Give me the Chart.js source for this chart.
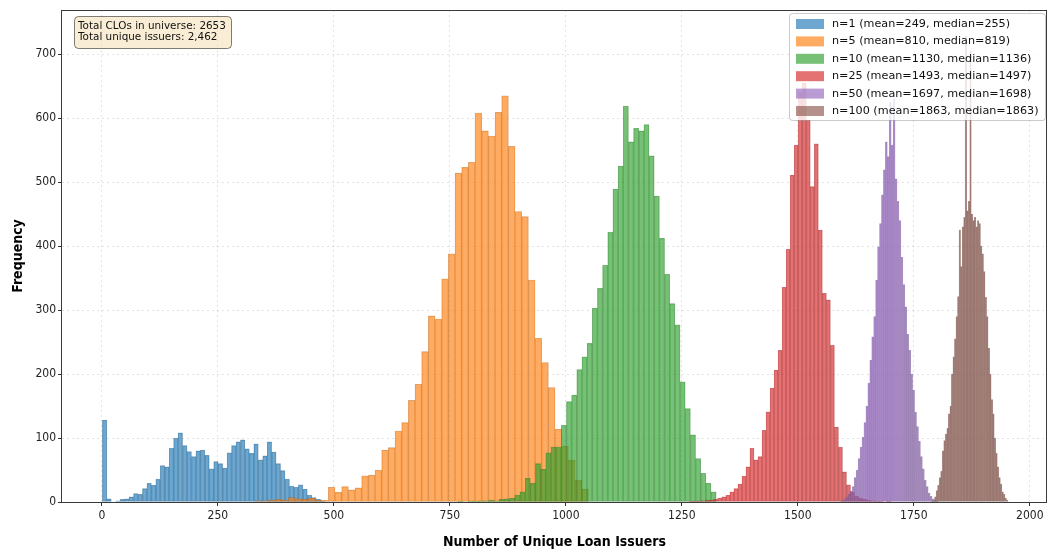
<!DOCTYPE html>
<html>
<head>
<meta charset="utf-8">
<script src="https://cdn.jsdelivr.net/npm/chart.js@4.4.1/dist/chart.umd.min.js"></script>
<style>
html,body{margin:0;padding:0;background:#ffffff;}
#wrap{width:1049px;height:551px;position:relative;}
</style>
</head>
<body>
<div id="wrap"><canvas id="c" width="1049" height="551"></canvas></div>
<script>
// ---------------- data ----------------
const seriesLabels = [
  'n=1 (mean=249, median=255)',
  'n=5 (mean=810, median=819)',
  'n=10 (mean=1130, median=1136)',
  'n=25 (mean=1493, median=1497)',
  'n=50 (mean=1697, median=1698)',
  'n=100 (mean=1863, median=1863)'
];
const seriesColors = ['#1f77b4', '#ff7f0e', '#2ca02c', '#d62728', '#9467bd', '#8c564b'];
// histogram bin edges: first edge and bin width (data units) per series
const binStart = [1, 330, 767.5, 1266.7, 1592, 1788];
const binWidth = [9.6, 14.37, 11.13, 8.67, 4.2, 3.3];

const countsN1 = [128, 5, 0, 2, 4, 5, 8, 13, 12, 21, 29, 26, 36, 57, 55, 84, 100, 108, 88, 79,
  71, 80, 81, 73, 52, 63, 60, 53, 77, 88, 94, 97, 83, 76, 91, 66, 72, 94, 78, 60,
  49, 36, 25, 23, 27, 20, 11, 7, 4, 2];
const countsN5 = [2, 2, 3, 4, 3, 7, 5, 4, 6, 3, 3, 23, 15, 24, 19, 22, 41, 42, 50, 81,
  85, 111, 124, 159, 184, 235, 291, 286, 349, 388, 514, 523, 531, 608, 580, 572, 609, 635, 556, 454,
  446, 347, 256, 218, 179, 114, 87, 65, 34, 20];
const countsN10 = [1, 0, 1, 1, 2, 2, 3, 2, 4, 5, 6, 11, 16, 37, 29, 60, 51, 77, 86, 86,
  120, 157, 167, 207, 227, 248, 303, 334, 370, 422, 489, 525, 619, 563, 584, 580, 590, 541, 478, 412,
  356, 310, 277, 188, 146, 105, 68, 45, 29, 16];
const countsN25 = [1, 1, 2, 2, 3, 3, 4, 6, 8, 11, 16, 21, 28, 40, 55, 84, 66, 71, 112, 141,
  178, 206, 237, 336, 395, 511, 558, 640, 655, 597, 493, 560, 425, 326, 316, 245, 117, 86, 47, 27,
  15, 9, 6, 4, 3, 2, 1, 1, 0, 1];
const countsN50 = [2, 3, 5, 8, 12, 17, 24, 38, 50, 68, 86, 101, 124, 150, 186, 222, 258, 290, 347, 399,
  435, 480, 519, 563, 540, 625, 558, 630, 505, 470, 440, 383, 340, 305, 262, 237, 200, 175, 140, 118,
  95, 71, 52, 34, 24, 14, 9, 5, 3, 1];
const countsN100 = [1, 2, 8, 18, 26, 38, 48, 80, 96, 106, 115, 138, 150, 200, 227, 255, 290, 321, 425, 368,
  430, 445, 728, 455, 470, 705, 450, 440, 445, 430, 440, 435, 400, 388, 360, 320, 290, 240, 200, 160,
  138, 100, 76, 55, 38, 28, 16, 12, 6, 3];

const xTicks = [0, 250, 500, 750, 1000, 1250, 1500, 1750, 2000];
const yTicks = [0, 100, 200, 300, 400, 500, 600, 700];
const xMin = -86, xMax = 2037, yMin = 0, yMax = 769;

const infoLines = ['Total CLOs in universe: 2653', 'Total unique issuers: 2,462'];
const xTitle = 'Number of Unique Loan Issuers';
const yTitle = 'Frequency';

// ---------------- helpers ----------------
const allCounts = [countsN1, countsN5, countsN10, countsN25, countsN50, countsN100];
function rgba(hex, a) {
  const n = parseInt(hex.slice(1), 16);
  return `rgba(${(n >> 16) & 255},${(n >> 8) & 255},${n & 255},${a})`;
}
function dark(hex, f, a) {
  const n = parseInt(hex.slice(1), 16);
  return `rgba(${Math.round(((n >> 16) & 255) * f)},${Math.round(((n >> 8) & 255) * f)},${Math.round((n & 255) * f)},${a})`;
}
const FONT = "'DejaVu Sans', sans-serif";
const COND = "'Liberation Sans Narrow', 'DejaVu Sans Condensed', 'DejaVu Sans', sans-serif";
const ALPHA = 0.65;

const datasets = allCounts.map((counts, i) => ({
  type: 'bar',
  label: seriesLabels[i],
  data: counts.map((c, j) => ({ x: binStart[i] + binWidth[i] * (j + 0.5), y: c })),
  xAxisID: i === 0 ? 'x' : 'x' + i,
  yAxisID: 'y',
  backgroundColor: rgba(seriesColors[i], ALPHA),
  borderColor: dark(seriesColors[i], 0.65, 0.45),
  borderWidth: 0.5,
  borderSkipped: false,
  barPercentage: 1,
  categoryPercentage: 1,
  grouped: false,
  order: 6 - i
}));

const plainTick = v => String(v);
const scales = {
  x: {
    type: 'linear', min: xMin, max: xMax, offset: false,
    afterBuildTicks: s => { s.ticks = xTicks.map(v => ({ value: v })); },
    afterFit: s => { s.height = 49; },
    grid: { color: 'rgba(0,0,0,0.11)', lineWidth: 1, drawTicks: true, tickLength: 4, tickColor: '#333', offset: false },
    border: { display: false, dash: [2, 3] },
    ticks: { font: { family: COND, size: 12 }, color: '#222', padding: 3, maxRotation: 0, callback: plainTick },
    title: { display: true, text: xTitle, font: { family: COND, size: 14, weight: 'bold' }, color: '#000', padding: { top: 4, bottom: 0 } }
  },
  y: {
    type: 'linear', min: yMin, max: yMax,
    afterBuildTicks: s => { s.ticks = yTicks.map(v => ({ value: v })); },
    afterFit: s => { s.width = 62; },
    grid: { color: 'rgba(0,0,0,0.11)', lineWidth: 1, drawTicks: true, tickLength: 4, tickColor: '#333' },
    border: { display: false, dash: [2, 3] },
    ticks: { font: { family: COND, size: 12 }, color: '#222', padding: 2, callback: plainTick },
    title: { display: true, text: yTitle, font: { family: COND, size: 14, weight: 'bold' }, color: '#000', padding: { top: 10, bottom: 0 } }
  }
};
for (let i = 1; i < 6; i++) {
  scales['x' + i] = { type: 'linear', display: false, min: xMin, max: xMax, offset: false,
    afterBuildTicks: s => { s.ticks = xTicks.map(v => ({ value: v })); } };
}

function roundRect(c, x, y, w, h, r) {
  c.beginPath();
  c.moveTo(x + r, y);
  c.lineTo(x + w - r, y); c.quadraticCurveTo(x + w, y, x + w, y + r);
  c.lineTo(x + w, y + h - r); c.quadraticCurveTo(x + w, y + h, x + w - r, y + h);
  c.lineTo(x + r, y + h); c.quadraticCurveTo(x, y + h, x, y + h - r);
  c.lineTo(x, y + r); c.quadraticCurveTo(x, y, x + r, y);
  c.closePath();
}

const framePlugin = {
  id: 'frame',
  afterDatasetsDraw(chart) {
    const { left, right, top, bottom } = chart.chartArea;
    const c = chart.ctx;
    c.save();
    c.strokeStyle = '#3a3a3a';
    c.lineWidth = 1;
    c.strokeRect(Math.round(left) - 0.5, Math.round(top) + 0.5, Math.round(right - left), Math.round(bottom - top));
    c.restore();
  }
};

const boxesPlugin = {
  id: 'boxes',
  afterDraw(chart) {
    const c = chart.ctx;
    const { left, right, top } = chart.chartArea;
    c.save();
    // info box (top-left)
    c.font = `10.4px ${FONT}`;
    const ix = left + 12, iy = top + 6, iw = 157, ih = 32;
    roundRect(c, ix + 0.5, iy + 0.5, iw, ih, 4);
    c.fillStyle = 'rgba(245,222,179,0.55)';
    c.fill();
    c.strokeStyle = 'rgba(0,0,0,0.5)';
    c.lineWidth = 1;
    c.stroke();
    c.fillStyle = '#111';
    c.textBaseline = 'middle';
    c.textAlign = 'left';
    infoLines.forEach((t, k) => c.fillText(t, ix + 4, iy + 10 + k * 11.6));

    // legend (top-right)
    const lw = 256, lh = 107;
    const lx = right - 2 - lw, ly = top + 3;
    roundRect(c, lx + 0.5, ly + 0.5, lw, lh, 3);
    c.fillStyle = 'rgba(255,255,255,0.8)';
    c.fill();
    c.strokeStyle = 'rgba(0,0,0,0.2)';
    c.stroke();
    c.font = `11.2px ${FONT}`;
    seriesLabels.forEach((t, k) => {
      const ry = ly + 11 + k * 17.4;
      c.fillStyle = rgba(seriesColors[k], ALPHA);
      c.fillRect(lx + 7, ry - 5, 28, 10);
      c.fillStyle = '#111';
      c.fillText(t, lx + 43, ry);
    });
    c.restore();
  }
};

new Chart(document.getElementById('c'), {
  type: 'bar',
  data: { datasets },
  options: {
    responsive: false,
    devicePixelRatio: 1,
    animation: false,
    layout: { padding: { top: 10, right: 2, left: 0, bottom: 0 } },
    plugins: { legend: { display: false }, tooltip: { enabled: false } },
    scales
  },
  plugins: [framePlugin, boxesPlugin]
});
</script>
</body>
</html>
